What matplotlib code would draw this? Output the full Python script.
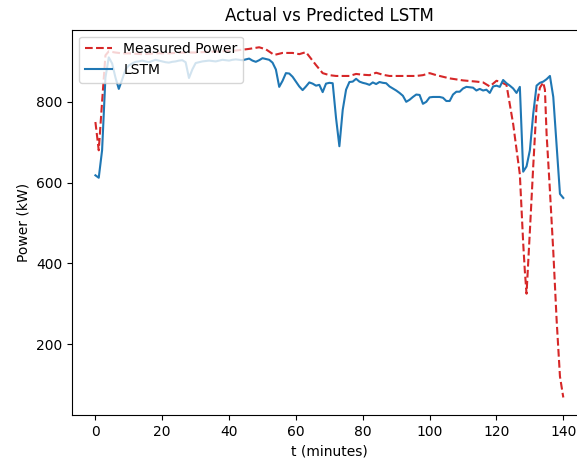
import matplotlib
matplotlib.use('Agg')
import matplotlib.pyplot as plt

# measured power (kW) vs time (minutes)
meas_t = [0, 1, 2, 3, 4, 6, 8, 10, 14, 18, 22, 26, 30, 34, 38, 42, 46, 49, 51,
          53.5, 56, 59, 61, 63, 66, 68, 70, 72, 76, 78, 80, 82, 84, 86, 88, 92,
          96, 98, 100, 102, 104, 106, 110, 114, 116, 118, 120, 121, 123, 125,
          127, 128, 128.5, 129, 130, 131, 132, 133, 134, 134.5, 135, 136, 137,
          138, 139, 140]
meas_p = [750, 680, 800, 915, 925, 922, 920, 920, 918, 920, 920, 922, 922, 924,
          925, 927, 931, 935, 930, 916, 921, 921, 918, 923, 891, 871, 866, 864,
          864, 869, 867, 866, 872, 867, 864, 864, 864, 866, 871, 866, 862, 858,
          853, 850, 848, 838, 852, 850, 842, 745, 620, 450, 380, 325, 480, 640,
          790, 835, 848, 830, 720, 580, 430, 260, 120, 68]

# LSTM prediction, one value per minute
lstm_t = list(range(0, 141))
lstm_p = [618, 612, 680, 860, 910, 895, 860, 832, 855, 880,
          890, 895, 899, 900, 902, 900, 898, 901, 904, 902,
          900, 898, 897, 899, 900, 902, 903, 898, 859, 880,
          896, 898, 900, 901, 902, 901, 900, 902, 904, 903,
          902, 904, 905, 904, 903, 905, 907, 902, 899, 903,
          908, 906, 904, 897, 880, 837, 852, 871, 870, 862,
          850, 838, 829, 838, 848, 845, 840, 842, 824, 845,
          847, 846, 760, 690, 780, 830, 849, 850, 857, 850,
          847, 845, 842, 848, 844, 849, 847, 846, 838, 833,
          828, 822, 815, 800, 805, 812, 818, 817, 795, 800,
          811, 812, 812, 812, 810, 802, 802, 818, 825, 825,
          833, 837, 836, 835, 828, 832, 828, 830, 822, 838,
          840, 837, 854, 846, 840, 833, 822, 837, 627, 640,
          680, 770, 840, 847, 850, 856, 864, 812, 690, 572,
          562]

fig = plt.figure(figsize=(5.77, 4.63), dpi=100)
ax = fig.add_axes([0.1248, 0.1037, 0.892, 0.832])

ax.plot(meas_t, meas_p, '--', color='tab:red', label='Measured Power')
ax.plot(lstm_t, lstm_p, '-', color='tab:blue', label='LSTM')

ax.set_title('Actual vs Predicted LSTM')
ax.set_xlabel('t (minutes)')
ax.set_ylabel('Power (kW)')
ax.set_xticks([0, 20, 40, 60, 80, 100, 120, 140])
ax.set_yticks([200, 400, 600, 800])
ax.legend(loc='upper left')

fig.savefig('out.png', dpi=100)
